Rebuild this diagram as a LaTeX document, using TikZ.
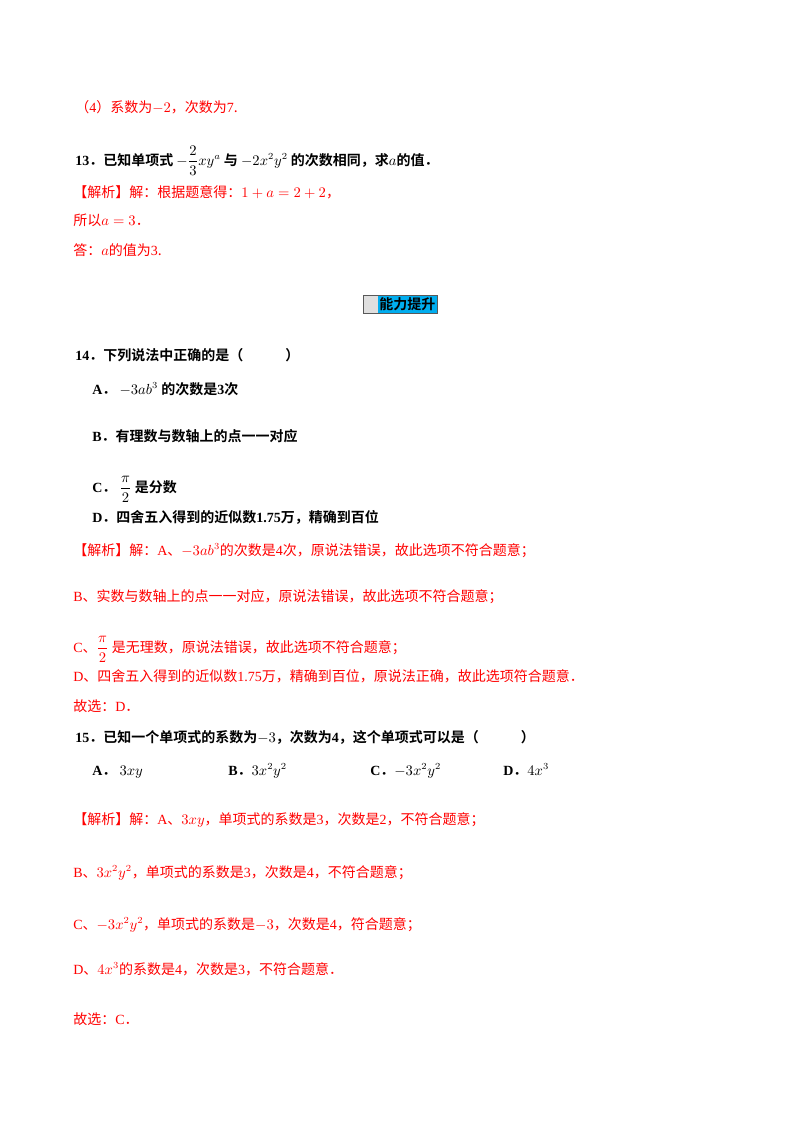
\documentclass[tikz,border=0pt]{standalone}
\usepackage{amsmath}
\usepackage{fontspec}
\setmainfont{Noto Sans CJK SC}[BoldFont={Noto Sans CJK SC Bold}]
\newfontfamily\lat{Liberation Serif}
\begin{document}
\begin{tikzpicture}[x=0.75pt,y=-0.75pt,
  t/.style={anchor=base west,inner sep=0pt,font=\fontsize{10.5}{12}\selectfont},
  r/.style={t,text=red},
  q/.style={t,font=\fontsize{10.5}{12}\selectfont\bfseries}]
\useasboundingbox (0,0) rectangle (800,1132);
\newcommand{\n}[1]{{\lat #1}}
\node[r] (l1) at (75,112) {（\n{4}）系数为$-2$，次数为\n{7}.};
\node[q] (q13) at (75,165) {\n{13}．已知单项式 $-\dfrac{2}{3}xy^a$ 与 $-2x^2y^2$ 的次数相同，求$a$的值．};
\node[r] (s1) at (73,197) {【解析】解：根据题意得：$1+a=2+2$，};
\node[r] (s2) at (73,225) {所以$a=3$．};
\node[r] (s3) at (73,255) {答：$a$的值为\n{3}.};
\fill[gray!25] (363,295) rectangle (378,313);
\fill[cyan] (378,295) rectangle (437,313);
\draw[gray!70!black] (363,295) rectangle (437,313);
\node[q] (hd) at (379,309) {能力提升};
\node[q] (q14) at (75,360) {\n{14}．下列说法中正确的是（\hspace{3em}）};
\node[q] (a14) at (92,394) {\n{A}．\ $-3ab^3$ 的次数是\n{3}次};
\node[q] (b14) at (92,441) {\n{B}．有理数与数轴上的点一一对应};
\node[q] (c14) at (92,492) {\n{C}．\ $\dfrac{\pi}{2}$ 是分数};
\node[q] (d14) at (92,522) {\n{D}．四舍五入得到的近似数\n{1.75}万，精确到百位};
\node[r] (s14a) at (73,555) {【解析】解：\n{A}、$-3ab^3$的次数是\n{4}次，原说法错误，故此选项不符合题意；};
\node[r] (s14b) at (73,601) {\n{B}、实数与数轴上的点一一对应，原说法错误，故此选项不符合题意；};
\node[r] (s14c) at (73,652) {\n{C}、$\dfrac{\pi}{2}$ 是无理数，原说法错误，故此选项不符合题意；};
\node[r] (s14d) at (73,681) {\n{D}、四舍五入得到的近似数\n{1.75}万，精确到百位，原说法正确，故此选项符合题意．};
\node[r] (s14e) at (73,711) {故选：\n{D}．};
\node[q] (q15) at (75,742) {\n{15}．已知一个单项式的系数为$-3$，次数为\n{4}，这个单项式可以是（\hspace{3em}）};
\node[q] (a15) at (92,775) {\n{A}．\ $3xy$};
\node[q] (b15) at (228,775) {\n{B}．$3x^2y^2$};
\node[q] (c15) at (370,775) {\n{C}．$-3x^2y^2$};
\node[q] (d15) at (503,775) {\n{D}．$4x^3$};
\node[r] (s15a) at (73,824) {【解析】解：\n{A}、$3xy$，单项式的系数是\n{3}，次数是\n{2}，不符合题意；};
\node[r] (s15b) at (73,877) {\n{B}、$3x^2y^2$，单项式的系数是\n{3}，次数是\n{4}，不符合题意；};
\node[r] (s15c) at (73,929) {\n{C}、$-3x^2y^2$，单项式的系数是$-3$，次数是\n{4}，符合题意；};
\node[r] (s15d) at (73,974) {\n{D}、$4x^3$的系数是\n{4}，次数是\n{3}，不符合题意．};
\node[r] (s15e) at (73,1024) {故选：\n{C}．};
\end{tikzpicture}
\end{document}
